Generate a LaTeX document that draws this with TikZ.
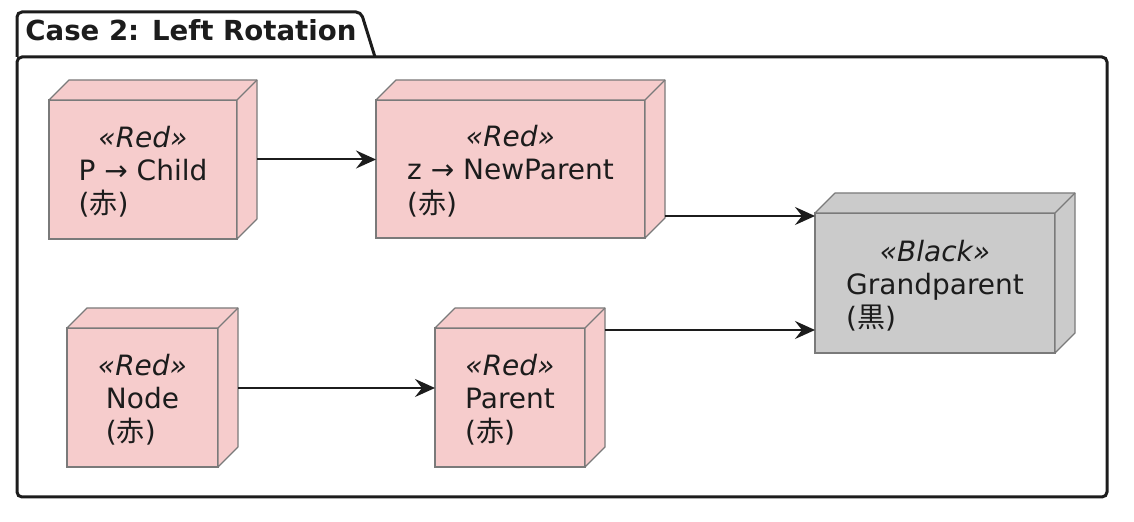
\documentclass[tikz,border=0pt]{standalone}
\usepackage{fontspec}
\setmainfont{DejaVu Sans}
\newfontfamily\cjk{Noto Sans CJK JP}
\usetikzlibrary{arrows.meta}

\definecolor{redfill}{HTML}{F6CCCC}
\definecolor{blackfill}{HTML}{CBCBCB}
\definecolor{boxline}{HTML}{7A7A7A}
\definecolor{ink}{HTML}{1C1C1C}

\newcommand{\boxtext}[2]{\raisebox{0pt}[\dimexpr\height+4.5pt\relax]{\begin{tabular}{@{}c@{}}{\itshape «#1»}\\
  \begin{tabular}[t]{@{}l@{}}#2\end{tabular}\end{tabular}}}

\tikzset{
  frame/.style={draw=ink, line width=1.5pt, rounded corners=2.5pt},
  nodebox/.style={draw=boxline, line width=0.6pt, inner sep=0pt, outer sep=0pt,
    text=ink, font=\fontsize{14}{16.5}\selectfont},
  redbox/.style={nodebox, fill=redfill},
  blackbox/.style={nodebox, fill=blackfill},
  link/.style={draw=ink, line width=1pt, -{Stealth[length=10pt,width=9pt,inset=3.5pt]}}
}

\begin{document}
\begin{tikzpicture}[x=0.5pt,y=-0.5pt]
      \useasboundingbox (0,0) rectangle (1134,522);

      % package frame with its tab
      \draw[frame] (17,57) -- (17,12) -- (361,12) -- (375,57);
      \draw[frame] (17,57) -- (1107,57) -- (1107,497) -- (17,497) -- cycle;
      \node[anchor=base west, inner sep=0pt, text=ink,
        font=\fontsize{13.8}{16.5}\selectfont\bfseries] (title) at (25,41) {Case 2: Left Rotation};

      % front faces
      \node[redbox, minimum width=94pt, minimum height=69.5pt] (child) at (143,169.5)
        {\boxtext{Red}{P → Child\\({\cjk 赤})}};
      \node[redbox, minimum width=134.5pt, minimum height=69pt] (newparent) at (510.5,169)
        {\boxtext{Red}{z → NewParent\\({\cjk 赤})}};
      \node[blackbox, minimum width=120pt, minimum height=70pt] (grand) at (935,283)
        {\boxtext{Black}{Grandparent\\({\cjk 黒})}};
      \node[redbox, minimum width=75.5pt, minimum height=69.5pt] (node) at (142.5,397.5)
        {\boxtext{Red}{Node\\({\cjk 赤})}};
      \node[redbox, minimum width=75pt, minimum height=69.5pt] (parent) at (510,397.5)
        {\boxtext{Red}{Parent\\({\cjk 赤})}};

      % depth of every box
      \foreach \n/\c in {child/redfill, newparent/redfill, grand/blackfill, node/redfill, parent/redfill} {
        \filldraw[fill=\c, draw=boxline, line width=0.6pt, line join=round]
          (\n.north west) -- ++(10pt,10pt) -- ([shift={(10pt,10pt)}]\n.north east)
          -- ([shift={(10pt,10pt)}]\n.south east) -- (\n.south east) -- (\n.north east) -- cycle;
        \draw[draw=boxline, line width=0.6pt] (\n.north east) -- ++(10pt,10pt);
      }

      % connectors
      \coordinate (c out) at ([shift={(10pt,5pt)}]child.east);
      \coordinate (np out) at ([shift={(10pt,-23.5pt)}]newparent.east);
      \coordinate (n out) at ([shift={(10pt,4.75pt)}]node.east);
      \coordinate (p out) at ([shift={(10pt,33.75pt)}]parent.east);
      \draw[link] (c out) -- (c out -| newparent.west);
      \draw[link] (np out) -- (np out -| grand.west);
      \draw[link] (n out) -- (n out -| parent.west);
      \draw[link] (p out) -- (p out -| grand.west);
\end{tikzpicture}
\end{document}
